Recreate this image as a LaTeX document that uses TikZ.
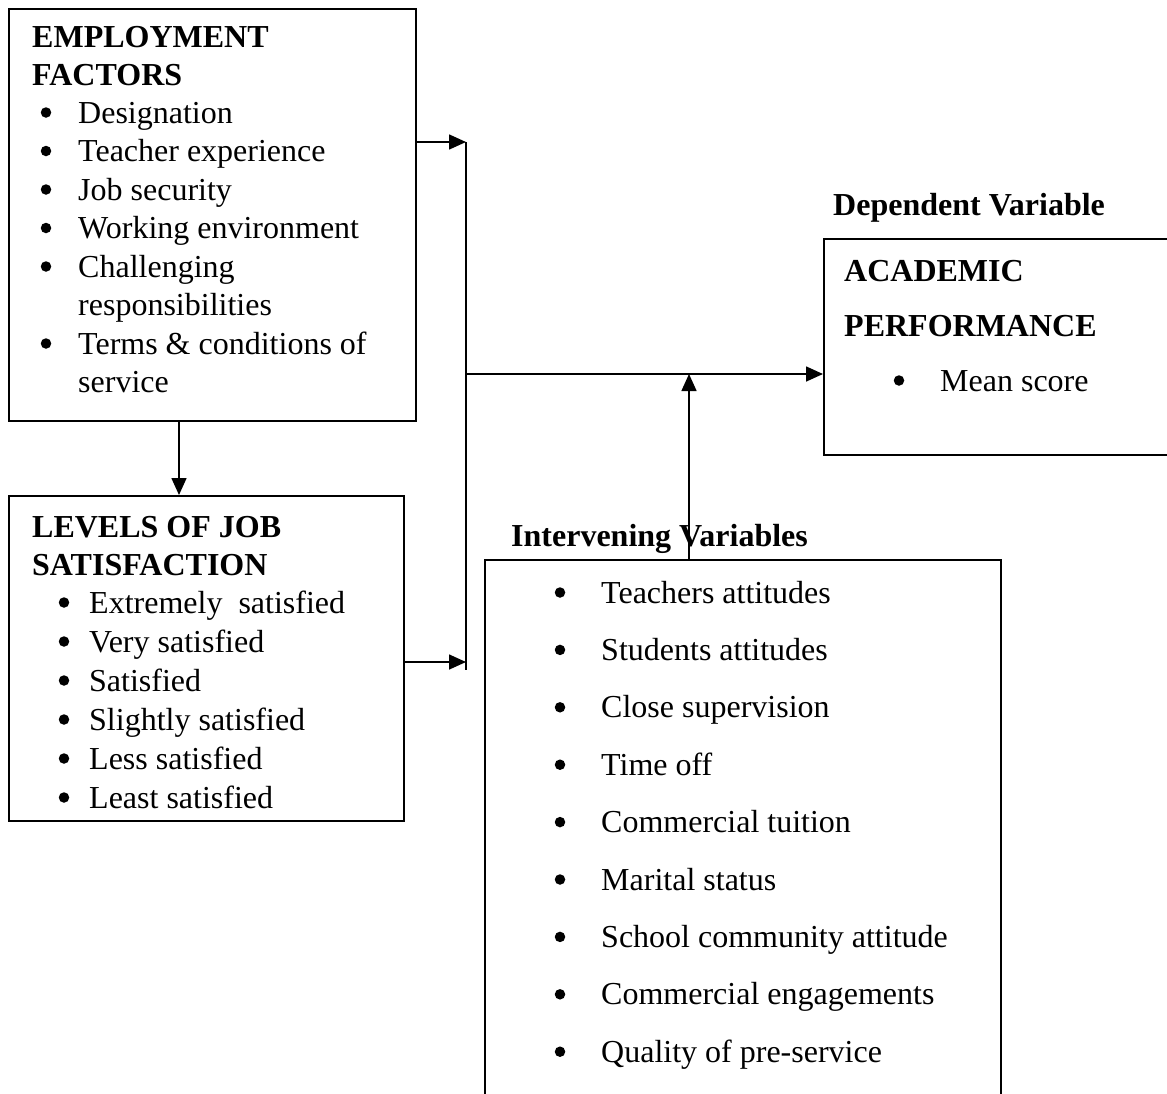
\documentclass[tikz,border=0pt]{standalone}
\usepackage{fontspec}
\setmainfont{Liberation Serif}
\usetikzlibrary{arrows.meta}
\begin{document}
\begin{tikzpicture}[x=1pt,y=-1pt,
  box/.style={draw,line width=1.6pt,inner sep=0pt,anchor=north west},
  txt/.style={inner sep=0pt,anchor=base west,font=\fontsize{32}{38}\selectfont},
  hd/.style={inner sep=0pt,anchor=base west,font=\fontsize{32}{38}\selectfont\bfseries},
  bul/.style={circle,fill,draw=none,inner sep=0pt,minimum size=10.5pt,yshift=10.5pt},
  arr/.style={line width=1.6pt,-{Triangle[length=17pt,width=15pt]}},
  ln/.style={line width=1.6pt}]
\clip (0,0) rectangle (1167,1093);
% boxes
\node[box,minimum width=407pt,minimum height=412pt] (emp) at (8,8) {};
\node[box,minimum width=395pt,minimum height=325pt] (lev) at (8,495) {};
\node[box,minimum width=360pt,minimum height=216pt] (dep) at (823,238) {};
\node[box,minimum width=516pt,minimum height=560pt] (int) at (484,559) {};
% employment factors
\node[hd] (e0) at (32,47.5) {EMPLOYMENT};
\node[hd] (e1) at (32,85.5) {FACTORS};
\node[bul] (eb1) at (46,123) {}; \node[txt] (et1) at (78,123) {Designation};
\node[bul] (eb2) at (46,161.5) {}; \node[txt] (et2) at (78,161.5) {Teacher experience};
\node[bul] (eb3) at (46,200) {}; \node[txt] (et3) at (78,200) {Job security};
\node[bul] (eb4) at (46,238.5) {}; \node[txt] (et4) at (78,238.5) {Working environment};
\node[bul] (eb5) at (46,277) {}; \node[txt] (et5) at (78,277) {Challenging};
\node[txt] (et6) at (78,315.5) {responsibilities};
\node[bul] (eb7) at (46,354) {}; \node[txt] (et7) at (78,354) {Terms \& conditions of};
\node[txt] (et8) at (78,392.5) {service};
% levels of job satisfaction
\node[hd] (l0) at (32,537.5) {LEVELS OF JOB};
\node[hd] (l1) at (32,575) {SATISFACTION};
\node[bul] (lb1) at (64,613) {}; \node[txt] (lt1) at (89,613) {Extremely\ \ satisfied};
\node[bul] (lb2) at (64,652) {}; \node[txt] (lt2) at (89,652) {Very satisfied};
\node[bul] (lb3) at (64,691) {}; \node[txt] (lt3) at (89,691) {Satisfied};
\node[bul] (lb4) at (64,730) {}; \node[txt] (lt4) at (89,730) {Slightly satisfied};
\node[bul] (lb5) at (64,769) {}; \node[txt] (lt5) at (89,769) {Less satisfied};
\node[bul] (lb6) at (64,808) {}; \node[txt] (lt6) at (89,808) {Least satisfied};
% dependent
\node[hd] (dt) at (833,215.5) {Dependent Variable};
\node[hd] (d1) at (844,281) {ACADEMIC};
\node[hd] (d2) at (844,336) {PERFORMANCE};
\node[bul] (db) at (899,391) {}; \node[txt] (dm) at (940,391) {Mean score};
% intervening
\node[hd] (it) at (511,546) {Intervening Variables};
\foreach \t [count=\i] in {Teachers attitudes,Students attitudes,Close supervision,Time off,Commercial tuition,Marital status,School community attitude,Commercial engagements,Quality of pre-service}{
  \node[bul] (ib\i) at (560,{603+57.4*(\i-1)}) {};
  \node[txt] (iv\i) at (601,{603+57.4*(\i-1)}) {\t};
}
% connectors
\coordinate (jt) at (466,142);
\coordinate (jl) at (466,662);
\coordinate (jb) at (466,670);
\coordinate (jm) at (466,374);
\coordinate (ju) at (689,374);
\coordinate (dx) at (179,0);
\draw[ln] (jt) -- (jb);
\draw[arr] (emp.east |- jt) -- (jt);
\draw[arr] (lev.east |- jl) -- (jl);
\draw[arr] (emp.south -| dx) -- (lev.north -| dx);
\draw[arr] (jm) -- (dep.west |- jm);
\draw[arr] (int.north -| ju) -- (ju);
\end{tikzpicture}
\end{document}
